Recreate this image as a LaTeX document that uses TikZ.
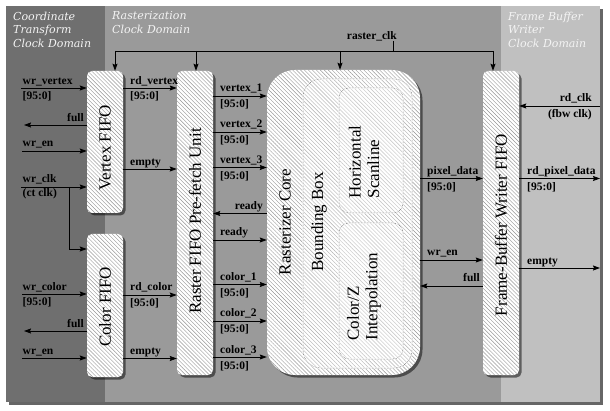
\documentclass[tikz,border=0pt]{standalone}
\usepackage{fontspec}
\setmainfont{Liberation Serif}
\newfontfamily\domfamily{DejaVu Serif}
\usetikzlibrary{shadows,patterns.meta,arrows.meta}
\definecolor{panelL}{HTML}{6F6F6F}
\definecolor{panelM}{HTML}{9A9A9A}
\definecolor{panelR}{HTML}{C0C0C0}
\definecolor{hatchc}{HTML}{969696}
\definecolor{domtext}{HTML}{F4F4F4}
\newcommand\siglblfont{\fontsize{11.5}{13}\selectfont\bfseries}
\newcommand\blklblfont{\fontsize{17}{18.5}\selectfont}
\newcommand\domlblfont{\domfamily\itshape\fontsize{11}{13.7}\selectfont}
\begin{document}
\begin{tikzpicture}[x=1pt,y=-1pt,
  blk/.style={fill=white, rounded corners=5pt, inner sep=0pt, draw=none,
    drop shadow={shadow xshift=2.5pt, shadow yshift=-2.5pt, opacity=.5, fill=black},
    postaction={pattern={Lines[angle=-45,distance=2.8pt,line width=.42pt]}, pattern color=hatchc}},
  inbox/.style={draw=black!65, densely dotted, line width=.5pt, inner sep=0pt,
    preaction={fill=white, fill opacity=.25},
    preaction={draw=white, solid, line width=2pt, draw opacity=.55}},
  blklbl/.style={font=\blklblfont, inner sep=0pt, rotate=90},
  lbl/.style={font=\siglblfont, inner sep=0pt},
  dom/.style={font=\domlblfont, text=domtext, inner sep=0pt, align=left, anchor=north west},
  wire/.style={draw, line width=.8pt},
  sig/.style={draw, line width=.8pt, -{Stealth[length=7pt,width=5pt,inset=1pt]}}]
\useasboundingbox (0,0) rectangle (610,411);
% panels
\path[fill=panelM, drop shadow={shadow xshift=3pt, shadow yshift=-3pt, opacity=.6, fill=black}] (6,6) rectangle (600,402);
\fill[panelL] (6,6) rectangle (105,402);
\fill[panelR] (501,6) rectangle (600,402);
\node[dom] (domA) at (13,11.5) {Coordinate\\Transform\\Clock Domain};
\node[dom] (domB) at (112,11.5) {Rasterization\\Clock Domain};
\node[dom] (domC) at (508,11.5) {Frame Buffer\\Writer\\Clock Domain};
% blocks
\node[blk, minimum width=36pt, minimum height=142pt] (vf) at (105,142) {};
\node[blk, minimum width=36pt, minimum height=143pt] (cf) at (105,305.5) {};
\node[blk, minimum width=36pt, minimum height=304pt] (rf) at (195,223) {};
\node[blk, rounded corners=28pt, minimum width=153pt, minimum height=305pt] (rc) at (343.5,222.5) {};
\node[blk, minimum width=36pt, minimum height=304pt] (fb) at (501,223) {};
\node[inbox, rounded corners=18pt, minimum width=109pt, minimum height=289pt] (bb) at (357.5,223.5) {};
\node[inbox, rounded corners=10pt, minimum width=64pt, minimum height=125pt] (hs) at (371,150.5) {};
\node[inbox, rounded corners=10pt, minimum width=64pt, minimum height=136pt] (cz) at (371,291) {};
% block labels
\node[blklbl] (vfT) at (105,148) {Vertex FIFO};
\node[blklbl] (cfT) at (105,307) {Color FIFO};
\node[blklbl] (rfT) at (195,221) {Raster FIFO Pre-fetch Unit};
\node[blklbl] (rcT) at (285,222) {Rasterizer Core};
\node[blklbl] (bbT) at (319,222) {Bounding Box};
\node[blklbl, align=left] (hsT) at (364,162) {Horizontal\\Scanline};
\node[blklbl, align=left] (czT) at (364,296.5) {Color/Z\\Interpolation};
\node[blklbl] (fbT) at (501,225) {Frame-Buffer Writer FIFO};
% raster clock
\coordinate (clkS) at (393,41);
\coordinate (clkJ) at (393,51);
\coordinate (clk1) at (115,51);
\coordinate (clk2) at (196,51);
\coordinate (clk3) at (340,51);
\coordinate (clk4) at (493,51);
\draw[wire] (clkS) -- (clkJ);
\draw[wire] (clk1) -- (clk4);
\draw[sig] (clk1) -- (clk1 |- vf.north);
\draw[sig] (clk2) -- (clk2 |- rf.north);
\draw[sig] (clk3) -- (clk3 |- rc.north);
\draw[sig] (clk4) -- (clk4 |- fb.north);
\node[lbl, anchor=base east] (clkT) at (397,39.5) {raster\_clk};
% vertex fifo inputs
\coordinate (wrv) at (21,88);
\draw[sig] (wrv) -- (wrv -| vf.west);
\node[lbl, anchor=base west] (wrvT) at (22.5,84.5) {wr\_vertex};
\node[lbl, anchor=base west] (wrvB) at (22.5,100) {[95:0]};
\coordinate (vfull) at (24,125);
\draw[sig] (vfull -| vf.west) -- (vfull);
\node[lbl, anchor=base east] (vfullT) at (84,121.5) {full};
\coordinate (vwe) at (22,151);
\draw[sig] (vwe) -- (vwe -| vf.west);
\node[lbl, anchor=base west] (vweT) at (22.5,147) {wr\_en};
\coordinate (vclk) at (21,187);
\draw[sig] (vclk) -- (vclk -| vf.west);
\node[lbl, anchor=base west] (vclkT) at (22.5,183) {wr\_clk};
\node[lbl, anchor=base west] (vclkB) at (22.5,197) {(ct clk)};
\coordinate (clkB) at (69,187);
\coordinate (clkC) at (69,249);
\draw[sig] (clkB) -- (clkC) -- (clkC -| cf.west);
% color fifo inputs
\coordinate (wrc) at (22,294);
\draw[sig] (wrc) -- (wrc -| cf.west);
\node[lbl, anchor=base west] (wrcT) at (22.5,290.5) {wr\_color};
\node[lbl, anchor=base west] (wrcB) at (22.5,306) {[95:0]};
\coordinate (cfull) at (24,331);
\draw[sig] (cfull -| cf.west) -- (cfull);
\node[lbl, anchor=base east] (cfullT) at (84,328) {full};
\coordinate (cwe) at (22,358);
\draw[sig] (cwe) -- (cwe -| cf.west);
\node[lbl, anchor=base west] (cweT) at (22.5,354) {wr\_en};
% vertex fifo -> raster fifo
\coordinate (rdv) at (123,88);
\draw[sig] (rdv -| vf.east) -- (rdv -| rf.west);
\node[lbl, anchor=base west] (rdvT) at (130,84.5) {rd\_vertex};
\node[lbl, anchor=base west] (rdvB) at (130,100) {[95:0]};
\coordinate (vemp) at (123,169);
\draw[sig] (vemp -| vf.east) -- (vemp -| rf.west);
\node[lbl, anchor=base west] (vempT) at (130,166) {empty};
% color fifo -> raster fifo
\coordinate (rdc) at (123,295);
\draw[sig] (rdc -| cf.east) -- (rdc -| rf.west);
\node[lbl, anchor=base west] (rdcT) at (130,291) {rd\_color};
\node[lbl, anchor=base west] (rdcB) at (130,306.5) {[95:0]};
\coordinate (cemp) at (123,358.5);
\draw[sig] (cemp -| cf.east) -- (cemp -| rf.west);
\node[lbl, anchor=base west] (cempT) at (130,355) {empty};
% raster fifo -> core
\coordinate (v1) at (213,96);
\draw[sig] (v1 -| rf.east) -- (v1 -| rc.west);
\node[lbl, anchor=base west] (v1T) at (220,92) {vertex\_1};
\node[lbl, anchor=base west] (v1B) at (220,108) {[95:0]};
\coordinate (v2) at (213,132);
\draw[sig] (v2 -| rf.east) -- (v2 -| rc.west);
\node[lbl, anchor=base west] (v2T) at (220,128) {vertex\_2};
\node[lbl, anchor=base west] (v2B) at (220,144) {[95:0]};
\coordinate (v3) at (213,167.5);
\draw[sig] (v3 -| rf.east) -- (v3 -| rc.west);
\node[lbl, anchor=base west] (v3T) at (220,163.5) {vertex\_3};
\node[lbl, anchor=base west] (v3B) at (220,179.5) {[95:0]};
\coordinate (rdy1) at (213,213.5);
\draw[sig] (rdy1 -| rc.west) -- (rdy1 -| rf.east);
\node[lbl, anchor=base east] (rdy1T) at (263,209.5) {ready};
\coordinate (rdy2) at (213,240);
\draw[sig] (rdy2 -| rf.east) -- (rdy2 -| rc.west);
\node[lbl, anchor=base west] (rdy2T) at (220,236) {ready};
\coordinate (c1) at (213,284.5);
\draw[sig] (c1 -| rf.east) -- (c1 -| rc.west);
\node[lbl, anchor=base west] (c1T) at (220,280.5) {color\_1};
\node[lbl, anchor=base west] (c1B) at (220,296.5) {[95:0]};
\coordinate (c2) at (213,321);
\draw[sig] (c2 -| rf.east) -- (c2 -| rc.west);
\node[lbl, anchor=base west] (c2T) at (220,317) {color\_2};
\node[lbl, anchor=base west] (c2B) at (220,333) {[95:0]};
\coordinate (c3) at (213,357);
\draw[sig] (c3 -| rf.east) -- (c3 -| rc.west);
\node[lbl, anchor=base west] (c3T) at (220,353) {color\_3};
\node[lbl, anchor=base west] (c3B) at (220,369) {[95:0]};
% core -> frame buffer writer
\coordinate (pd) at (420,178.5);
\draw[sig] (pd -| rc.east) -- (pd -| fb.west);
\node[lbl, anchor=base west] (pdT) at (427,174.5) {pixel\_data};
\node[lbl, anchor=base west] (pdB) at (427,190.5) {[95:0]};
\coordinate (fwe) at (420,260);
\draw[sig] (fwe -| rc.east) -- (fwe -| fb.west);
\node[lbl, anchor=base west] (fweT) at (427,256) {wr\_en};
\coordinate (ffull) at (420,286);
\draw[sig] (ffull -| fb.west) -- (ffull -| rc.east);
\node[lbl, anchor=base east] (ffullT) at (480,282) {full};
% frame buffer writer right side
\coordinate (rclk) at (600,106);
\draw[sig] (rclk) -- (rclk -| fb.east);
\node[lbl, anchor=base east] (rclkT) at (592,102) {rd\_clk};
\node[lbl, anchor=base east] (rclkB) at (592,117.5) {(fbw clk)};
\coordinate (rpd) at (600,178.5);
\draw[sig] (rpd -| fb.east) -- (rpd);
\node[lbl, anchor=base west] (rpdT) at (527,174.5) {rd\_pixel\_data};
\node[lbl, anchor=base west] (rpdB) at (527,190.5) {[95:0]};
\coordinate (femp) at (600,268);
\draw[sig] (femp -| fb.east) -- (femp);
\node[lbl, anchor=base west] (fempT) at (527,264.5) {empty};
\end{tikzpicture}
\end{document}
